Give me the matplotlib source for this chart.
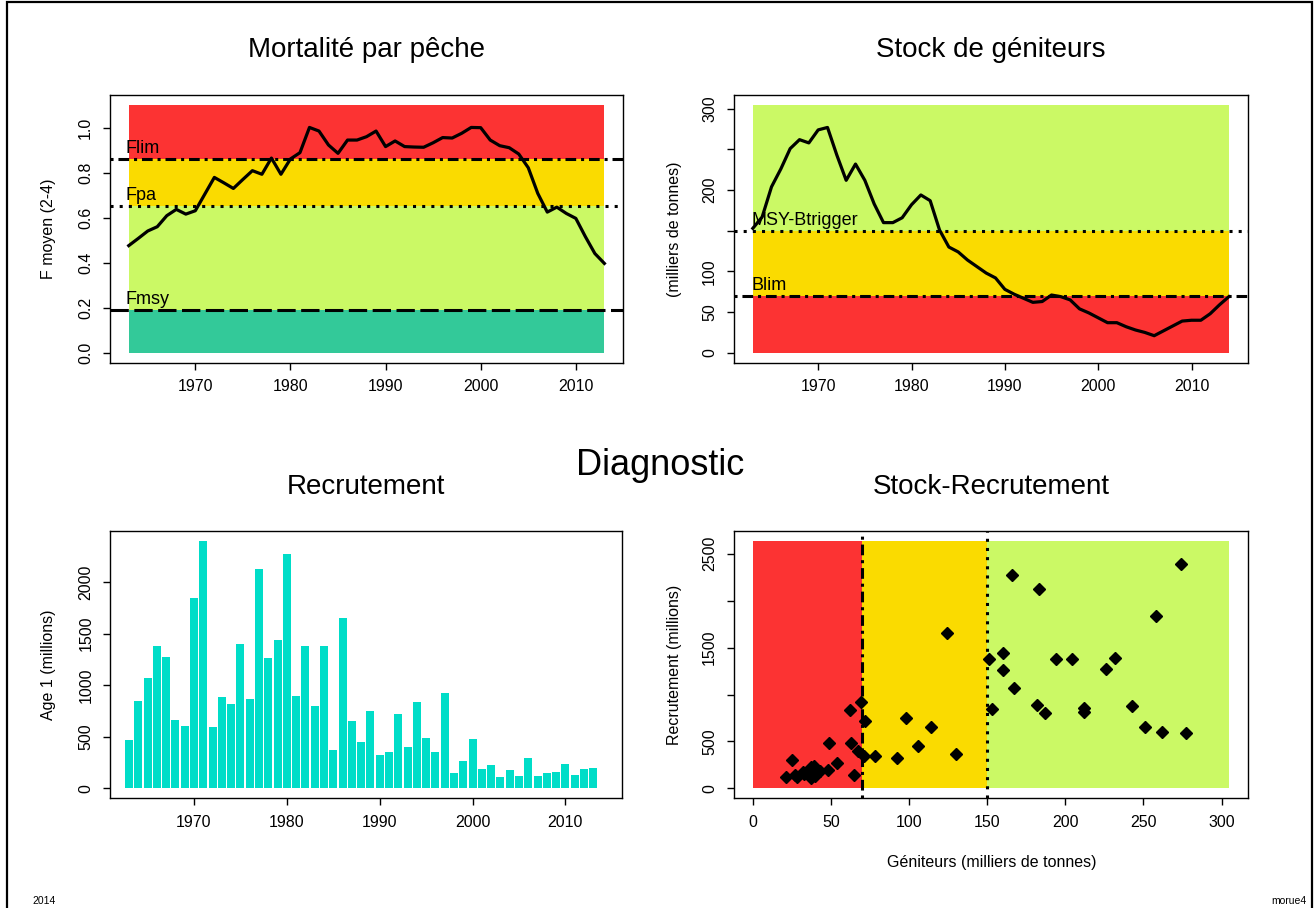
import matplotlib
matplotlib.use("Agg")
import matplotlib.pyplot as plt
from matplotlib.patches import Rectangle
import numpy as np

plt.rcParams["font.family"] = ["Liberation Sans", "DejaVu Sans"]

# fishing mortality (F moyen 2-4), 1963-2013
f_years = list(range(1963, 2014))
f_bar = [0.476, 0.508, 0.541, 0.560, 0.609, 0.637, 0.616, 0.631, 0.705, 0.779,
         0.755, 0.730, 0.770, 0.809, 0.793, 0.865, 0.793, 0.861, 0.889, 1.001,
         0.985, 0.923, 0.886, 0.945, 0.945, 0.960, 0.985, 0.916, 0.941, 0.916,
         0.914, 0.913, 0.933, 0.956, 0.954, 0.975, 1.001, 1.000, 0.945, 0.920,
         0.911, 0.883, 0.822, 0.708, 0.625, 0.647, 0.619, 0.597, 0.516, 0.441,
         0.397]

# spawning stock biomass (milliers de tonnes), 1963-2014
ssb_years = list(range(1963, 2015))
ssb = [153, 167, 204, 226, 251, 262, 258, 274, 277, 243,
       212, 232, 212, 183, 160, 160, 166, 182, 194, 187,
       151, 130, 124, 114, 106, 98, 92, 78, 72, 67,
       62, 63, 71, 69, 65, 54, 49, 43, 37, 37,
       32, 28, 25, 21, 27, 33, 39, 40, 40, 48,
       59, 69]

# recruitment age 1 (millions), 1963-2013
rec_years = list(range(1963, 2014))
rec = [466, 842, 1074, 1376, 1277, 659, 601, 1842, 2395, 592,
       881, 817, 1395, 862, 2125, 1260, 1440, 2273, 894, 1383,
       801, 1383, 370, 1653, 650, 450, 746, 322, 350, 723,
       399, 836, 486, 350, 926, 148, 270, 482, 186, 225,
       109, 177, 119, 299, 125, 148, 158, 235, 129, 186,
       199]

# reference points
Fmsy, Fpa, Flim = 0.19, 0.65, 0.86
Blim, Btrigger = 70, 150

RED = "#FC3333"
GOLD = "#FADB00"
LGREEN = "#CBF965"
TEAL = "#33C999"
BARCOL = "#00DDC8"

W, H = 1316, 908
fig = plt.figure(figsize=(W / 100, H / 100), dpi=100)


def px_axes(x0, y0, x1, y1):
    return fig.add_axes([x0 / W, 1 - y1 / H, (x1 - x0) / W, (y1 - y0) / H])


def rlim(lo, hi):
    d = (hi - lo) * 0.04
    return lo - d, hi + d


def style(ax):
    for s in ax.spines.values():
        s.set_linewidth(1.0)
    ax.tick_params(direction="out", length=5, width=1.0, labelsize=11.5, pad=7)
    for lab in ax.get_yticklabels():
        lab.set_rotation(90)
        lab.set_va("center")


lw_ref = 2.2
dotdash = (0, (1, 1.6, 3.5, 1.6))
dotted = (0, (1, 2))
longdash = (0, (6, 1.8))

# ---------------- Mortalité par pêche
ax1 = px_axes(109.7, 95, 623.4, 362.7)
fmax = max(f_bar) * 1.1
x0, x1 = f_years[0], f_years[-1]
ax1.fill_between([x0, x1], 0, Fmsy, color=TEAL, lw=0)
ax1.fill_between([x0, x1], Fmsy, Fpa, color=LGREEN, lw=0)
ax1.fill_between([x0, x1], Fpa, Flim, color=GOLD, lw=0)
ax1.fill_between([x0, x1], Flim, fmax, color=RED, lw=0)
ax1.plot(f_years, f_bar, color="black", lw=2.3)
ax1.axhline(Flim, color="black", lw=lw_ref, ls=dotdash)
ax1.axhline(Fpa, color="black", lw=lw_ref, ls=dotted)
ax1.axhline(Fmsy, color="black", lw=lw_ref, ls=longdash)
for val, name in [(Flim, "Flim"), (Fpa, "Fpa"), (Fmsy, "Fmsy")]:
    ax1.annotate(name, (x0 - 0.3, val), xytext=(0, 1.5), textcoords="offset points",
                 fontsize=13, va="bottom", ha="left")
ax1.set_xlim(*rlim(x0, x1))
ax1.set_ylim(*rlim(0, fmax))
ax1.set_xticks([1970, 1980, 1990, 2000, 2010])
ax1.set_yticks([0, 0.2, 0.4, 0.6, 0.8, 1.0])
ax1.set_yticklabels(["0.0", "0.2", "0.4", "0.6", "0.8", "1.0"])
style(ax1)

# ---------------- Stock de géniteurs
ax2 = px_axes(733.8, 95, 1247.9, 362.7)
bmax = max(ssb) * 1.1
x0, x1 = ssb_years[0], ssb_years[-1]
ax2.fill_between([x0, x1], 0, Blim, color=RED, lw=0)
ax2.fill_between([x0, x1], Blim, Btrigger, color=GOLD, lw=0)
ax2.fill_between([x0, x1], Btrigger, bmax, color=LGREEN, lw=0)
ax2.plot(ssb_years, ssb, color="black", lw=2.3)
ax2.axhline(Btrigger, color="black", lw=lw_ref, ls=dotted)
ax2.axhline(Blim, color="black", lw=lw_ref, ls=dotdash)
for val, name in [(Btrigger, "MSY-Btrigger"), (Blim, "Blim")]:
    ax2.annotate(name, (x0 - 0.1, val), xytext=(0, 1.5), textcoords="offset points",
                 fontsize=13, va="bottom", ha="left")
ax2.set_xlim(*rlim(x0, x1))
ax2.set_ylim(*rlim(0, bmax))
ax2.set_xticks([1970, 1980, 1990, 2000, 2010])
ax2.set_yticks([0, 50, 100, 150, 200, 250, 300])
ax2.set_yticklabels(["0", "50", "100", "", "200", "", "300"])
style(ax2)

# ---------------- Recrutement
ax3 = px_axes(110, 531.3, 621.5, 798.3)
ax3.bar(rec_years, rec, width=0.86, color=BARCOL, lw=0)
ax3.set_xlim(*rlim(ssb_years[0], ssb_years[-1]))
ax3.set_ylim(*rlim(0, max(rec)))
ax3.set_xticks([1970, 1980, 1990, 2000, 2010])
ax3.set_yticks([0, 500, 1000, 1500, 2000])
style(ax3)

# ---------------- Stock-Recrutement
ax4 = px_axes(733.8, 531.3, 1247.9, 798.3)
rmax = max(rec) * 1.1
ax4.add_patch(Rectangle((0, 0), Blim, rmax, color=RED, lw=0))
ax4.add_patch(Rectangle((Blim, 0), Btrigger - Blim, rmax, color=GOLD, lw=0))
ax4.add_patch(Rectangle((Btrigger, 0), bmax - Btrigger, rmax, color=LGREEN, lw=0))
sr_x = ssb[:len(rec) - 1]
sr_y = rec[1:]
ax4.plot(sr_x, sr_y, "D", color="black", ms=6.5, ls="none", zorder=4)
ax4.axvline(Blim, color="black", lw=lw_ref, ls=dotdash, zorder=3)
ax4.axvline(Btrigger, color="black", lw=lw_ref, ls=dotted, zorder=3)
ax4.set_xlim(*rlim(0, bmax))
ax4.set_ylim(*rlim(0, rmax))
ax4.set_xticks([0, 50, 100, 150, 200, 250, 300])
ax4.set_yticks([0, 500, 1000, 1500, 2000, 2500])
ax4.set_yticklabels(["0", "500", "", "1500", "", "2500"])
style(ax4)

# titles and labels
fig.text(366 / W, 1 - 50 / H, "Mortalité par pêche", fontsize=20, ha="center", va="center")
fig.text(991 / W, 1 - 50 / H, "Stock de géniteurs", fontsize=20, ha="center", va="center")
fig.text(366 / W, 1 - 487 / H, "Recrutement", fontsize=20, ha="center", va="center")
fig.text(991 / W, 1 - 487 / H, "Stock-Recrutement", fontsize=20, ha="center", va="center")
fig.text(660 / W, 1 - 465 / H, "Diagnostic", fontsize=26, ha="center", va="center")

fig.text(48 / W, 1 - 229 / H, "F moyen (2-4)", fontsize=11.5, rotation=90, ha="center", va="center")
fig.text(675 / W, 1 - 229 / H, "(milliers de tonnes)", fontsize=11.5, rotation=90, ha="center", va="center")
fig.text(48 / W, 1 - 665 / H, "Age 1 (millions)", fontsize=11.5, rotation=90, ha="center", va="center")
fig.text(675 / W, 1 - 665 / H, "Recrutement (millions)", fontsize=11.5, rotation=90, ha="center", va="center")
fig.text(992 / W, 1 - 862 / H, "Géniteurs (milliers de tonnes)", fontsize=11.5, ha="center", va="center")

fig.text(44 / W, 1 - 901 / H, "2014", fontsize=7.5, ha="center", va="center")
fig.text(1289 / W, 1 - 901 / H, "morue4", fontsize=7.5, ha="center", va="center")

# outer frame
fig.patches.append(Rectangle((7 / W, -0.02), 1304.5 / W, 1.02 - 2 / H, transform=fig.transFigure,
                             fill=False, lw=1.6, ec="black"))

fig.savefig("out.png", dpi=100)
